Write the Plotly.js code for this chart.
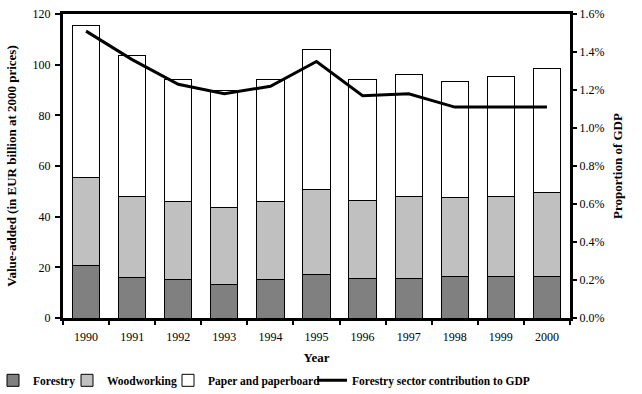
<!DOCTYPE html>
<html>
<head>
<meta charset="utf-8">
<script src="https://cdn.plot.ly/plotly-3.0.1.min.js"></script>
<style>html,body{margin:0;padding:0;background:#fff}#chart{width:642px;height:394px}</style>
</head>
<body>
<div id="chart"></div>
<script>
var years = ["1990","1991","1992","1993","1994","1995","1996","1997","1998","1999","2000"];
var forestry = [20.7, 16.1, 15.3, 13.3, 15.3, 17.2, 15.7, 15.7, 16.3, 16.3, 16.3];
var woodworking = [34.9, 31.8, 30.6, 30.4, 30.6, 33.6, 30.6, 32.2, 31.2, 31.6, 33.3];
var paper = [60.0, 55.8, 48.2, 46.0, 48.2, 55.3, 47.9, 48.3, 45.9, 47.5, 49.0];
var gdpShare = [0.0151, 0.0136, 0.0123, 0.0118, 0.0122, 0.0135, 0.0117, 0.0118, 0.0111, 0.0111, 0.0111];

var serif = "Liberation Serif";
var barLine = {color: "#000000", width: 1};

var traces = [
  {type: "bar", name: "Forestry", x: years, y: forestry, legend: "legend",
   marker: {color: "#808080", line: barLine}},
  {type: "bar", name: "Woodworking", x: years, y: woodworking, legend: "legend2",
   marker: {color: "#c0c0c0", line: barLine}},
  {type: "bar", name: "Paper and paperboard", x: years, y: paper, legend: "legend3",
   marker: {color: "#ffffff", line: barLine}},
  {type: "scatter", mode: "lines", name: "Forestry sector contribution to GDP", legend: "legend4",
   x: years, y: gdpShare, yaxis: "y2",
   line: {color: "#000000", width: 3}}
];

var legFont = {family: serif, size: 11.5, color: "#000000", weight: "bold"};
function leg(px) {
  return {orientation: "h", x: (px - 63) / 507, xanchor: "left", y: -0.205, yanchor: "middle",
          font: legFont, bgcolor: "rgba(0,0,0,0)", borderwidth: 0, itemwidth: 30};
}

var layout = {
  width: 642, height: 394,
  margin: {l: 63, r: 72, t: 14, b: 76, autoexpand: false},
  paper_bgcolor: "#ffffff", plot_bgcolor: "#ffffff",
  font: {family: serif, size: 12, color: "#000000"},
  barmode: "stack",
  bargap: 0.41,
  showlegend: true,
  legend: leg(-7),
  legend2: leg(67),
  legend3: leg(168),
  legend4: leg(312),
  xaxis: {
    type: "category",
    showline: true, linecolor: "#000000", linewidth: 3, mirror: true,
    ticks: "outside", tickson: "boundaries", ticklen: 4, tickwidth: 2, tickcolor: "#000000",
    ticklabelstandoff: 6,
    showgrid: false,
    title: {text: "Year", font: {family: serif, size: 13, weight: "bold"}, standoff: 10},
    tickfont: {family: serif, size: 12}
  },
  yaxis: {
    range: [0, 120], dtick: 20,
    showline: true, linecolor: "#000000", linewidth: 3,
    ticks: "outside", ticklen: 5, tickwidth: 2, tickcolor: "#000000",
    ticklabelstandoff: 2,
    showgrid: false, zeroline: false,
    title: {text: "Value-added (in EUR billion at 2000 prices)", font: {family: serif, size: 13, weight: "bold"}, standoff: 14},
    tickfont: {family: serif, size: 12}
  },
  yaxis2: {
    overlaying: "y", side: "right",
    range: [0, 0.016], dtick: 0.002, tickformat: ".1%",
    showline: true, linecolor: "#000000", linewidth: 3,
    ticks: "outside", ticklen: 4, tickwidth: 2, tickcolor: "#000000",
    showgrid: false, zeroline: false,
    title: {text: "Proportion of GDP", font: {family: serif, size: 13, weight: "bold"}, standoff: 10},
    tickfont: {family: serif, size: 12}
  }
};

Plotly.newPlot("chart", traces, layout, {displayModeBar: false, staticPlot: true});
</script>
</body>
</html>
